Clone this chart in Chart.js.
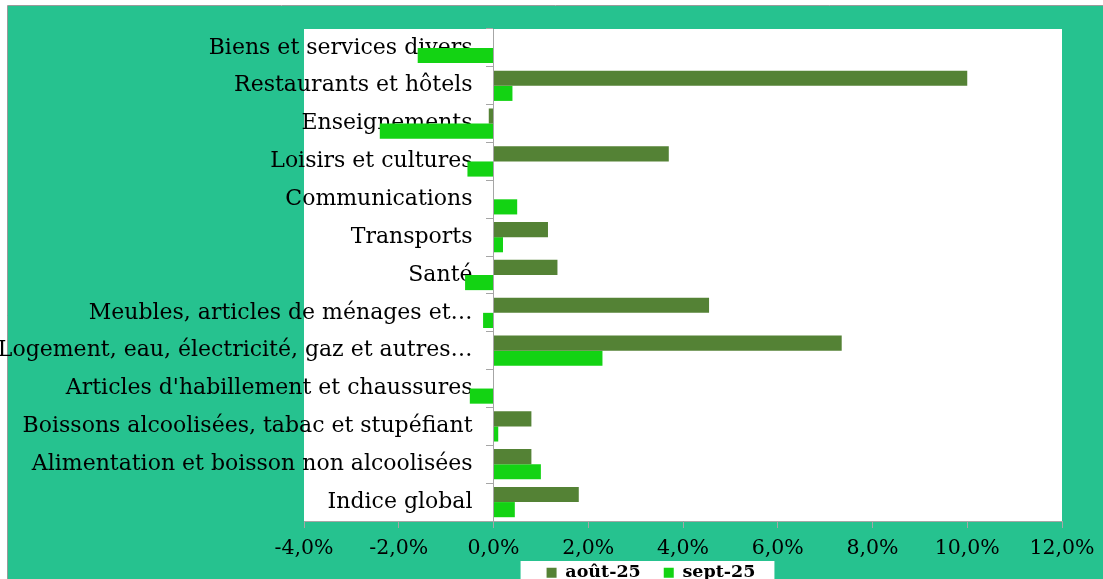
<!DOCTYPE html>
<html>
<head>
<meta charset="utf-8">
<script src="https://cdn.jsdelivr.net/npm/chart.js@4.4.0/dist/chart.umd.min.js"></script>
<style>
  html, body { margin: 0; padding: 0; background: #fff; overflow: hidden; }
  #wrap { width: 1103px; height: 625px; }
</style>
</head>
<body>
<div id="wrap"><canvas id="chartIpc"></canvas></div>
<script>
// --- DONNÉES ---
const categories = [
  "Biens et services divers",
  "Restaurants et hôtels",
  "Enseignements",
  "Loisirs et cultures",
  "Communications",
  "Transports",
  "Santé",
  "Meubles, articles de ménages et…",
  "Logement, eau, électricité, gaz et autres…",
  "Articles d'habillement et chaussures",
  "Boissons alcoolisées, tabac et stupéfiant",
  "Alimentation et boisson non alcoolisées",
  "Indice global"
];
const aout25 = [0, 10.0, -0.1, 3.7, 0, 1.15, 1.35, 4.55, 7.35, 0, 0.8, 0.8, 1.8];
const sept25 = [-1.6, 0.4, -2.4, -0.55, 0.5, 0.2, -0.6, -0.22, 2.3, -0.5, 0.1, 1.0, 0.45];
const tickValues = [-4, -2, 0, 2, 4, 6, 8, 10, 12];

const fmtPct = (v) => v.toFixed(1).replace(".", ",") + "%";

// fond vert, zone de tracé blanche, cadre de la légende
const fondPlugin = {
  id: "fond",
  afterUpdate(chart) {
    // place la légende comme dans l'original
    const lg = chart.legend;
    if (lg) {
      const d = 651 - (lg.left + lg.right) / 2;
      lg.left += d;
      lg.right += d;
      lg.top = 541;
      lg.bottom = lg.top + lg.height;
      lg.adjustHitBoxes();
    }
  },
  beforeDraw(chart) {
    const { ctx, chartArea, width, height } = chart;
    ctx.save();
    ctx.fillStyle = "#ffffff";
    ctx.fillRect(0, 0, width, height);
    ctx.fillStyle = "#26C28F";
    ctx.fillRect(7, 6, width - 7, height - 6);
    ctx.strokeStyle = "#9a9a9a";
    ctx.lineWidth = 1;
    ctx.beginPath();
    ctx.moveTo(7.5, height);
    ctx.lineTo(7.5, 5.5);
    ctx.lineTo(width, 5.5);
    ctx.stroke();
    ctx.fillStyle = "#ffffff";
    ctx.fillRect(chartArea.left, chartArea.top, chartArea.right - chartArea.left, chartArea.bottom - chartArea.top);
    const hb = chart.legend && chart.legend.legendHitBoxes;
    if (hb && hb.length) {
      const last = hb[hb.length - 1];
      const x0 = hb[0].left - 26;
      const x1 = last.left + last.width + 19;
      ctx.fillRect(x0, 561, x1 - x0, height - 561);
    }
    ctx.restore();
  }
};

const ctxIpc = document.getElementById("chartIpc");
new Chart(ctxIpc, {
  type: "bar",
  data: {
    labels: categories,
    datasets: [
      {
        label: "août-25",
        data: aout25,
        backgroundColor: "#548235",
        borderWidth: 0,
        categoryPercentage: 0.8,
        barPercentage: 1.0
      },
      {
        label: "sept-25",
        data: sept25,
        backgroundColor: "#13D313",
        borderWidth: 0,
        categoryPercentage: 0.8,
        barPercentage: 1.0
      }
    ]
  },
  options: {
    indexAxis: "y",
    responsive: true,
    maintainAspectRatio: false,
    animation: false,
    layout: { padding: { left: 304, right: 41, top: 29, bottom: 0 } },
    plugins: {
      tooltip: { enabled: false },
      legend: {
        position: "bottom",
        labels: {
          boxWidth: 10,
          boxHeight: 10,
          padding: 23,
          color: "#000",
          font: { family: "DejaVu Serif", size: 17.5, weight: "bold" }
        }
      }
    },
    scales: {
      x: {
        min: -4,
        max: 12,
        afterBuildTicks: (s) => { s.ticks = tickValues.map((v) => ({ value: v })); },
        afterFit: (s) => {
          const lgH = s.chart.legend ? s.chart.legend.height : 0;
          s.height = s.chart.height - lgH - 521;
        },
        ticks: {
          color: "#000",
          padding: 8,
          autoSkip: false,
          maxRotation: 0,
          font: { family: "DejaVu Serif", size: 20.5 },
          callback: (v) => fmtPct(v)
        },
        grid: { drawOnChartArea: false, drawTicks: true, tickLength: 7, color: "#A6A6A6" },
        border: { display: true, color: "#A6A6A6" }
      },
      y: {
        position: { x: 0 },
        z: 1,
        afterFit: (s) => {
          // les libellés se terminent un peu avant l'axe du zéro
          if (!s._decale) {
            const orig = s._computeLabelItems.bind(s);
            s._computeLabelItems = (ca) => orig(ca).map((it) => {
              it.options.translation[0] -= 21;
              return it;
            });
            s._decale = true;
          }
        },
        ticks: {
          color: "#000",
          padding: 14,
          autoSkip: false,
          font: { family: "DejaVu Serif", size: 22 }
        },
        grid: { drawOnChartArea: false, drawTicks: true, tickLength: 7, offset: true, color: "#A6A6A6" },
        border: { display: true, color: "#A6A6A6" }
      }
    }
  },
  plugins: [fondPlugin]
});
</script>
</body>
</html>
